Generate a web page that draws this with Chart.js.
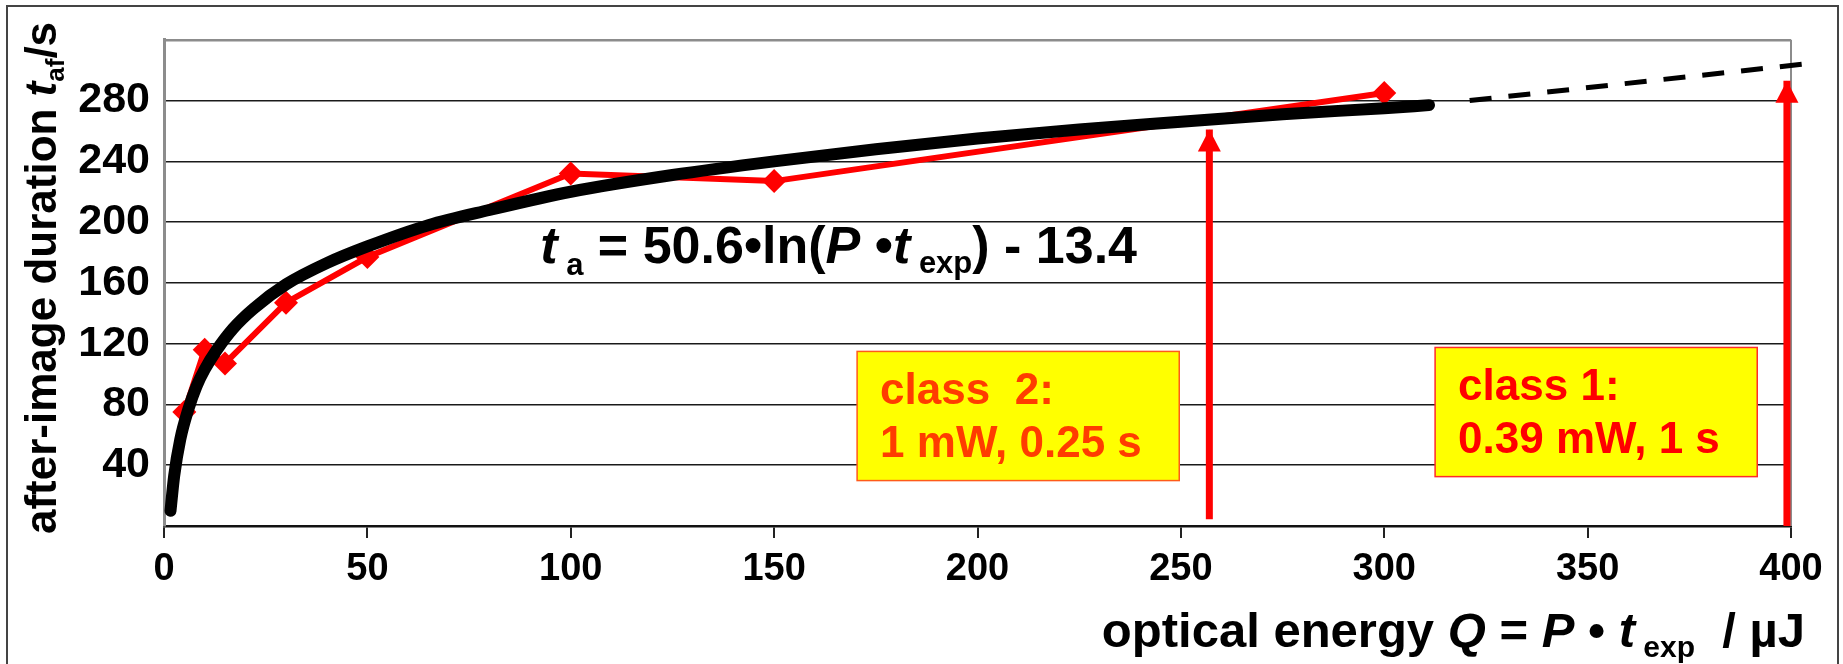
<!DOCTYPE html>
<html lang="en">
<head>
<meta charset="UTF-8" />
<title>After-image duration vs optical energy</title>
<script src="https://cdn.jsdelivr.net/npm/chart.js"></script>
<style>
  html, body { margin: 0; padding: 0; background: #fff; }
  #wrap { position: relative; width: 1843px; height: 664px; overflow: hidden; }
  #frame {
    position: absolute; left: 6px; top: 5px; width: 1833px; height: 720px;
    border: 2px solid #444; box-sizing: border-box; pointer-events: none;
  }
  canvas { position: absolute; left: 0; top: 0; }
</style>
</head>
<body>
<div id="wrap">
  <canvas id="chart" width="1843" height="664"></canvas>
  <div id="frame"></div>
</div>

<script>
  // measured after-image durations (s) vs optical energy (uJ)
  const energy = [5, 10, 15, 30, 50, 100, 150, 300];
  const duration = [75, 116, 107, 147, 177, 232, 227, 285];

  // logarithmic fit curve
  const fitEnergy = [1.6, 2.5, 4, 6, 8, 10, 13, 17, 22, 30, 40, 50, 65, 80, 100, 125, 150, 175, 200, 225, 250, 275, 300, 311];
  const fitDuration = [10, 33, 57, 77, 92, 103, 116, 130, 143, 159, 173, 184, 198, 208, 220, 231, 240, 248, 255, 261, 266, 271, 275, 277];

  // dashed extrapolation beyond the measured range
  const extEnergy = [321, 403];
  const extDuration = [280, 304];

  // laser class limits (vertical arrows): energy, [bottom, tip]
  const class2Energy = 257;
  const class2Span = [4.5, 261];
  const class1Energy = 399;
  const class1Span = [0, 293];

  const xTicks = [0, 50, 100, 150, 200, 250, 300, 350, 400];
  const yTicks = [40, 80, 120, 160, 200, 240, 280];

  const classText = [
    ['class  2:', '1 mW, 0.25 s'],
    ['class 1:', '0.39 mW, 1 s']
  ];

  const FAMILY = "'Liberation Sans', Arial, sans-serif";
  const pts = (xs, ys) => xs.map((v, i) => ({ x: v, y: ys[i] }));

  // draws a row of text runs with different fonts / baseline shifts
  function runsWidth(ctx, runs) {
    let w = 0;
    runs.forEach(r => { ctx.font = r.font; w += ctx.measureText(r.text).width; });
    return w;
  }
  function drawRuns(ctx, runs, x, y) {
    runs.forEach(r => {
      ctx.font = r.font;
      ctx.fillText(r.text, x, y + (r.dy || 0));
      x += ctx.measureText(r.text).width;
    });
  }

  const B = s => 'bold ' + s + 'px ' + FAMILY;
  const BI = s => 'italic bold ' + s + 'px ' + FAMILY;

  const eqRuns = [
    { text: 't', font: BI(52) },
    { text: ' a', font: B(31), dy: 12 },
    { text: ' = 50.6\u2022ln(', font: B(52) },
    { text: 'P', font: BI(52) },
    { text: ' \u2022', font: B(52) },
    { text: 't', font: BI(52) },
    { text: ' exp', font: B(31), dy: 10 },
    { text: ') - 13.4', font: B(52) }
  ];
  const xTitleRuns = [
    { text: 'optical energy ', font: B(49) },
    { text: 'Q', font: BI(49) },
    { text: ' = ', font: B(49) },
    { text: 'P', font: BI(49) },
    { text: ' \u2022 ', font: B(49) },
    { text: 't', font: BI(49) },
    { text: ' exp', font: B(30), dy: 10 },
    { text: '  / \u00b5J', font: B(49) }
  ];
  const yTitleRuns = [
    { text: 'after-image duration ', font: B(44) },
    { text: 't', font: BI(44) },
    { text: 'af', font: B(26), dy: 8 },
    { text: '/s', font: B(44) }
  ];

  // class boxes in data units: [x0, x1, yTop, yBottom]
  const boxes = [
    { area: [170.4, 249.6, 114.9, 29.9], text: classText[0], color: '#ff3c00', edge: '#ff5a1a' },
    { area: [312.5, 391.7, 117.5, 32.5], text: classText[1], color: '#ff0000', edge: '#ff2a2a' }
  ];

  const extras = {
    id: 'extras',
    beforeDatasetsDraw(chart) {
      const { ctx, chartArea: a } = chart;
      ctx.save();
      ctx.strokeStyle = '#8c8c8c';
      ctx.lineWidth = 2;
      ctx.beginPath();
      ctx.moveTo(a.right, a.top);
      ctx.lineTo(a.right, a.bottom);
      ctx.stroke();
      ctx.restore();
    },
    afterDatasetsDraw(chart) {
      const { ctx, scales: { x, y } } = chart;
      ctx.save();
      // arrow heads on the class limit lines
      chart.data.datasets.forEach((ds, i) => {
        if (!ds.arrowHead) return;
        const els = chart.getDatasetMeta(i).data;
        const tip = els[els.length - 1];
        ctx.fillStyle = ds.borderColor;
        ctx.beginPath();
        ctx.moveTo(tip.x, tip.y);
        ctx.lineTo(tip.x - 11.5, tip.y + 22);
        ctx.lineTo(tip.x + 11.5, tip.y + 22);
        ctx.closePath();
        ctx.fill();
      });

      // yellow class boxes
      boxes.forEach(b => {
        const x0 = x.getPixelForValue(b.area[0]);
        const x1 = x.getPixelForValue(b.area[1]);
        const y0 = y.getPixelForValue(b.area[2]);
        const y1 = y.getPixelForValue(b.area[3]);
        ctx.fillStyle = '#ffff00';
        ctx.fillRect(x0, y0, x1 - x0, y1 - y0);
        ctx.strokeStyle = b.edge;
        ctx.lineWidth = 1.5;
        ctx.strokeRect(x0, y0, x1 - x0, y1 - y0);
        ctx.fillStyle = b.color;
        ctx.font = B(44);
        ctx.textBaseline = 'alphabetic';
        ctx.fillText(b.text[0], x0 + 23, y0 + 53);
        ctx.fillText(b.text[1], x0 + 23, y0 + 106);
      });

      // fit equation
      ctx.fillStyle = '#000';
      ctx.textBaseline = 'alphabetic';
      drawRuns(ctx, eqRuns, x.getPixelForValue(92.5), y.getPixelForValue(173.4));
      ctx.restore();
    },
    afterDraw(chart) {
      const { ctx } = chart;
      ctx.save();
      ctx.fillStyle = '#000';
      ctx.textBaseline = 'alphabetic';
      // x axis title, right aligned
      const w = runsWidth(ctx, xTitleRuns);
      drawRuns(ctx, xTitleRuns, 1805 - w, 647);
      // y axis title, rotated
      ctx.translate(56, 534);
      ctx.rotate(-Math.PI / 2);
      drawRuns(ctx, yTitleRuns, 0, 0);
      ctx.restore();
    }
  };

  new Chart(document.getElementById('chart'), {
    type: 'line',
    data: {
      datasets: [
        {
          data: pts(fitEnergy, fitDuration),
          borderColor: '#000',
          borderWidth: 12,
          borderCapStyle: 'round',
          cubicInterpolationMode: 'monotone',
          pointRadius: 0,
          order: 0
        },
        {
          data: pts(extEnergy, extDuration),
          borderColor: '#000',
          borderWidth: 5,
          borderDash: [22, 17],
          pointRadius: 0,
          clip: 40,
          order: 0
        },
        {
          data: pts(energy, duration),
          borderColor: '#ff0000',
          borderWidth: 6,
          pointStyle: 'rectRot',
          pointRadius: 12,
          pointBackgroundColor: '#ff0000',
          pointBorderWidth: 0,
          order: 1
        },
        {
          data: pts([class2Energy, class2Energy], class2Span),
          borderColor: '#ff0000',
          borderWidth: 7,
          pointRadius: 0,
          arrowHead: true,
          order: 2
        },
        {
          data: pts([class1Energy, class1Energy], class1Span),
          borderColor: '#ff0000',
          borderWidth: 7,
          pointRadius: 0,
          arrowHead: true,
          order: 2
        }
      ]
    },
    options: {
      responsive: false,
      animation: false,
      devicePixelRatio: 1,
      events: [],
      layout: { padding: { top: 32, right: 52, left: 0, bottom: 0 } },
      plugins: { legend: { display: false }, tooltip: { enabled: false } },
      scales: {
        x: {
          type: 'linear',
          min: 0,
          max: 400,
          afterBuildTicks: s => { s.ticks = xTicks.map(v => ({ value: v })); },
          afterFit: s => { s.height = 138; },
          grid: { drawOnChartArea: false, drawTicks: true, tickLength: 12, color: '#222', lineWidth: 2 },
          border: { display: true, color: '#111', width: 2.5 },
          ticks: {
            color: '#000',
            font: { family: FAMILY, size: 38, weight: 'bold' },
            padding: 9,
            maxRotation: 0,
            autoSkip: false
          }
        },
        y: {
          min: 0,
          max: 320,
          afterBuildTicks: s => { s.ticks = [0].concat(yTicks, [320]).map(v => ({ value: v })); },
          afterFit: s => { s.width = 164; },
          grid: {
            drawTicks: false,
            color: c => c.tick.value === 320 ? '#8c8c8c' : '#1a1a1a',
            lineWidth: c => c.tick.value === 320 ? 2.5 : 1.6
          },
          border: { color: '#8c8c8c', width: 3 },
          ticks: {
            color: '#000',
            font: { family: FAMILY, size: 43, weight: 'bold' },
            padding: 14,
            autoSkip: false,
            callback: v => yTicks.includes(v) ? String(v) : ''
          }
        }
      }
    },
    plugins: [extras]
  });
</script>
</body>
</html>
